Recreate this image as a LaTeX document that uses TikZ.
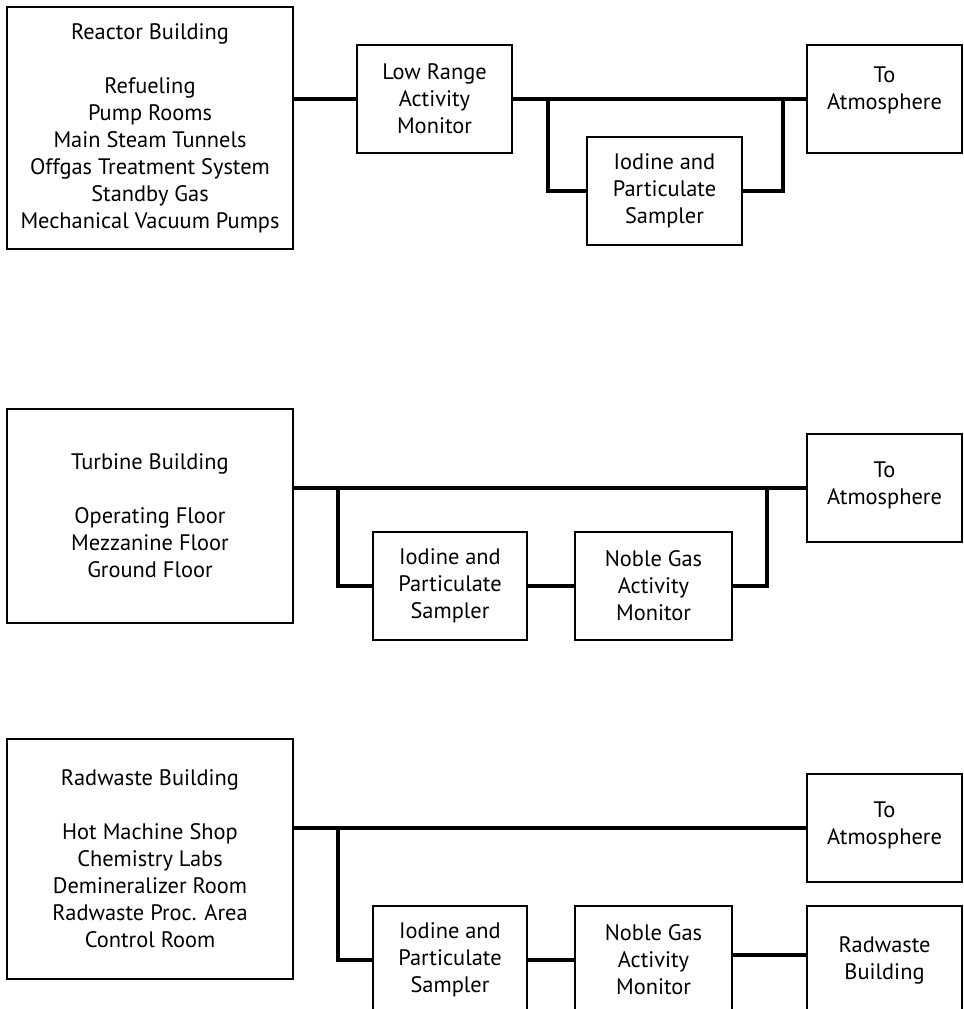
\documentclass[tikz,border=0pt]{standalone}
\usepackage{fontspec}
\setmainfont{PT Sans}
\begin{document}
\begin{tikzpicture}[x=0.75pt,y=-0.75pt,
  box/.style={draw=black,line width=1.1pt,rectangle,inner sep=0pt,align=center,
    font=\fontsize{16.8}{20.25}\selectfont},
  small/.style={box,minimum width=116.25pt,minimum height=81pt},
  big/.style={box,minimum width=214.5pt},
  pipe/.style={line width=2.4pt,line cap=rect}]
\useasboundingbox (0,0) rectangle (963,1009);
\clip (0,0) rectangle (963,1009);
\fill[white] (0,0) rectangle (963,1009);

% ---------- Reactor Building ----------
\node[big,minimum height=181.5pt] (rb) at (150,128)
  {Reactor Building\\[20.25pt]Refueling\\Pump Rooms\\Main Steam Tunnels\\Offgas Treatment System\\Standby Gas\\Mechanical Vacuum Pumps};
\node[small] (lr) at (434.5,99) {Low Range\\Activity\\Monitor};
\node[small] (ta1) at (884.5,99) {To\\Atmosphere\\[-4pt]\mbox{}};
\node[small] (is1) at (664.5,191) {Iodine and\\Particulate\\Sampler};
\coordinate (a1) at (548,99);
\coordinate (b1) at (783,99);
\draw[pipe] (rb.east |- lr.west) -- (lr.west);
\draw[pipe] (lr.east) -- (ta1.west);
\draw[pipe,line join=miter] (a1) |- (is1.west);
\draw[pipe,line join=miter] (is1.east) -| (b1);

% ---------- Turbine Building ----------
\node[big,minimum height=160.5pt] (tb) at (150,516)
  {Turbine Building\\[20.25pt]Operating Floor\\Mezzanine Floor\\Ground Floor};
\node[small] (ta2) at (884.5,488) {To\\Atmosphere\\[-13pt]\mbox{}};
\node[small,minimum width=115.5pt] (is2) at (450,586) {Iodine and\\Particulate\\Sampler};
\node[small,minimum width=117.75pt] (ng2) at (653.5,586) {Noble Gas\\Activity\\Monitor};
\coordinate (a2) at (338,488);
\coordinate (b2) at (767,488);
\draw[pipe] (tb.east |- ta2.west) -- (ta2.west);
\draw[pipe,line join=miter] (a2) |- (is2.west);
\draw[pipe] (is2.east) -- (ng2.west);
\draw[pipe,line join=miter] (ng2.east) -| (b2);

% ---------- Radwaste Building ----------
\node[big,minimum height=180pt] (rw) at (150,859)
  {Radwaste Building\\[20.25pt]Hot Machine Shop\\Chemistry Labs\\Demineralizer Room\\Radwaste Proc. Area\\Control Room};
\node[small] (ta3) at (884.5,828) {To\\Atmosphere\\[-13pt]\mbox{}};
\node[small,minimum width=115.5pt] (is3) at (450,960) {Iodine and\\Particulate\\Sampler};
\node[small,minimum width=117.75pt] (ng3) at (653.5,960) {Noble Gas\\Activity\\Monitor};
\node[small] (rbx) at (884.5,960) {Radwaste\\Building};
\coordinate (a3) at (338,829);
\coordinate (c3) at (0,955);
\draw[pipe] (rw.east |- ta3.west) -- (ta3.west);
\draw[pipe,line join=miter] (a3) |- (is3.west);
\draw[pipe] (is3.east) -- (ng3.west);
\draw[pipe] (ng3.east |- c3) -- (rbx.west |- c3);
\end{tikzpicture}
\end{document}
